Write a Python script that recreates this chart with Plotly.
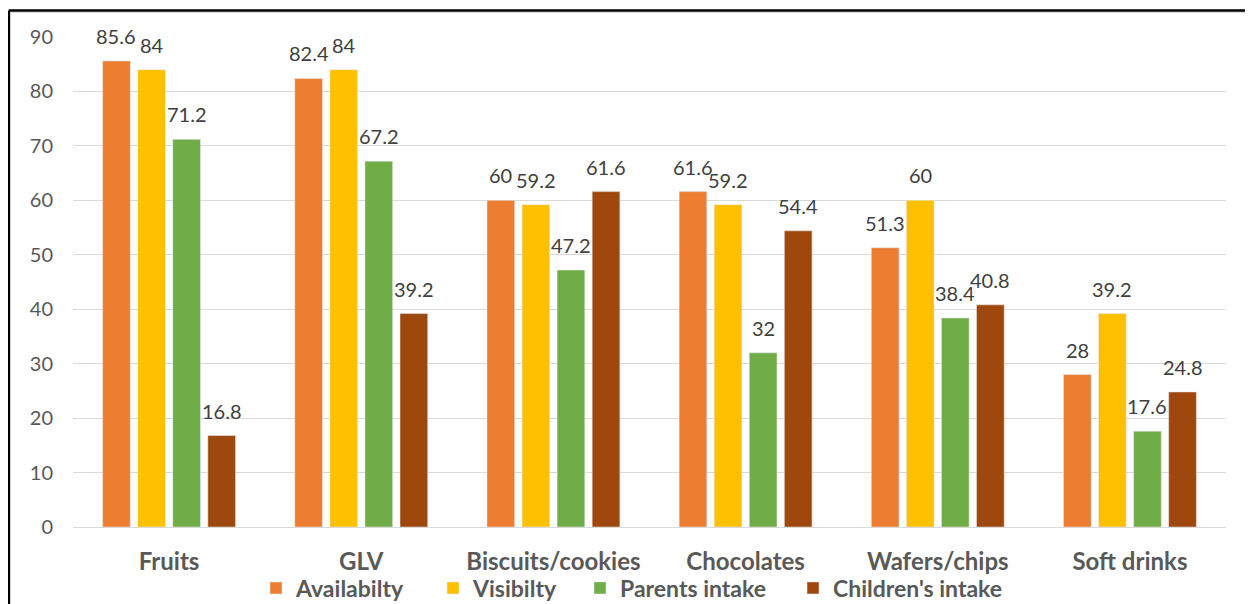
import plotly.graph_objects as go

categories = ["Fruits", "GLV", "Biscuits/cookies", "Chocolates", "Wafers/chips", "Soft drinks"]
availability = [85.6, 82.4, 60, 61.6, 51.3, 28]
visibility = [84, 84, 59.2, 59.2, 60, 39.2]
parents_intake = [71.2, 67.2, 47.2, 32, 38.4, 17.6]
children_intake = [16.8, 39.2, 61.6, 54.4, 40.8, 24.8]

series = [
    ("Availabilty", availability, "#ED7D31"),
    ("Visibilty", visibility, "#FFC000"),
    ("Parents intake", parents_intake, "#70AD47"),
    ("Children's intake", children_intake, "#9E480E"),
]

font_family = "Lato, 'Open Sans', sans-serif"
BARGAP = 0.27

# page body has an 8px margin, so the figure is drawn 8px in from the window edge
W, H = 1245, 596
ml, mr, mt, mb = 65, 27, 29, 77
pw, ph = W - ml - mr, H - mt - mb

legend_left_px = [248, 425, 572, 785]
legend_names = ["legend", "legend2", "legend3", "legend4"]

fig = go.Figure()
annotations = []
n = len(series)
slot = (1 - BARGAP) / n
for k, (name, vals, color) in enumerate(series):
    fig.add_trace(go.Bar(
        x=categories, y=vals, name=name, marker_color=color,
        legend=legend_names[k], cliponaxis=False,
    ))
    off = (k - (n - 1) / 2) * slot
    for i, v in enumerate(vals):
        annotations.append(dict(
            x=i + off, y=v, xref="x", yref="y", text=f"{v:g}", showarrow=False,
            yanchor="bottom", xanchor="center", yshift=11,
            font=dict(size=20, color="#404040", family=font_family),
        ))

legend_common = dict(orientation="h", xref="container", yref="container", xanchor="left",
                     yanchor="middle", y=(H - 580) / H, bgcolor="rgba(0,0,0,0)",
                     font=dict(size=23, color="#595959", family=font_family, weight="bold"),
                     itemwidth=30)

top_y = 1 + (mt - 2.5) / ph
left_x = (0.8 - ml) / pw
grey_top = 1 + (mt - 4.5) / ph
grey_left = (2.5 - ml) / pw

fig.update_layout(
    width=W, height=H,
    margin=dict(l=ml, r=mr, t=mt, b=mb),
    paper_bgcolor="white", plot_bgcolor="white",
    barmode="group", bargap=BARGAP, bargroupgap=0.21,
    font=dict(family=font_family, color="#595959"),
    showlegend=True,
    legend=dict(legend_common, x=legend_left_px[0] / W),
    legend2=dict(legend_common, x=legend_left_px[1] / W),
    legend3=dict(legend_common, x=legend_left_px[2] / W),
    legend4=dict(legend_common, x=legend_left_px[3] / W),
    annotations=annotations,
    yaxis=dict(range=[0, 90], dtick=10, showgrid=True, gridcolor="#d9d9d9", gridwidth=1,
               zeroline=True, zerolinecolor="#d9d9d9", zerolinewidth=1, automargin=False,
               tickfont=dict(size=20, color="#595959"), ticks="outside", ticklen=15,
               tickcolor="rgba(0,0,0,0)", showline=False),
    xaxis=dict(showline=False, ticks="outside", ticklen=13, tickcolor="rgba(0,0,0,0)",
               automargin=False,
               tickfont=dict(size=24, color="#595959", weight="bold")),
    shapes=[
        dict(type="line", xref="paper", yref="paper", x0=grey_left, x1=1.2, y0=grey_top, y1=grey_top,
             line=dict(color="#d9d9d9", width=1)),
        dict(type="line", xref="paper", yref="paper", x0=grey_left, x1=grey_left, y0=grey_top, y1=-0.3,
             line=dict(color="#d9d9d9", width=1)),
        dict(type="line", xref="paper", yref="paper", x0=left_x, x1=1.2, y0=top_y, y1=top_y,
             line=dict(color="black", width=2.5)),
        dict(type="line", xref="paper", yref="paper", x0=left_x, x1=left_x, y0=top_y, y1=-0.3,
             line=dict(color="black", width=2.5)),
    ],
)

fig.write_html("out.html")
